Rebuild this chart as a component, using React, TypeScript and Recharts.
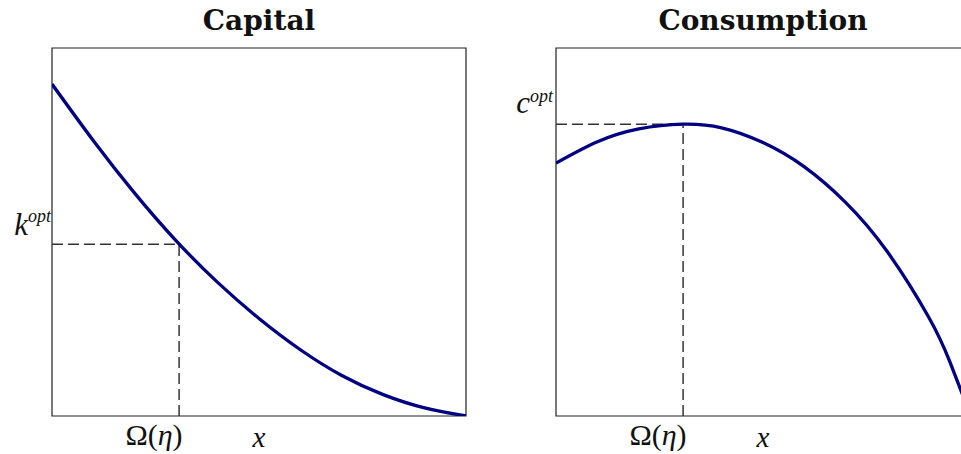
import { LineChart, Line, XAxis, YAxis, ReferenceLine, ReferenceArea, Label } from "recharts";

// x runs 0..1 across each box, values are in box-height units (0..1)
const capitalX = [0, 0.1, 0.2, 0.3, 0.4, 0.5, 0.6, 0.7, 0.8, 0.9, 1];
const capitalY = [0.902, 0.748, 0.605, 0.476, 0.363, 0.265, 0.18, 0.11, 0.058, 0.022, 0];

const consumptionX = [0, 0.1, 0.2, 0.307, 0.4, 0.5, 0.6, 0.7, 0.8, 0.9, 0.95, 1];
const consumptionY = [0.687, 0.745, 0.78, 0.793, 0.783, 0.743, 0.677, 0.58, 0.447, 0.269, 0.151, 0.006];

const omega = 0.307;
const kOpt = 0.467;
const cOpt = 0.793;

const mathFont = "'Liberation Serif', 'DejaVu Serif', serif";
const titleFont = "'DejaVu Serif', serif";
const ink = "#111";

const capitalData = capitalX.map((x, i) => ({ x, y: capitalY[i] }));
const consumptionData = consumptionX.map((x, i) => ({ x, y: consumptionY[i] }));

const OmegaTick = (props: any) => {
  const { x, y } = props;
  return (
    <text x={x + 3.5} y={y + 29} textAnchor="end" fontFamily={mathFont} fontSize={30} fill={ink}>
      Ω(<tspan fontStyle="italic">η</tspan>)
    </text>
  );
};

const optTick = (letter: string, lift: number, supLift: number, gap: number) => (props: any) => {
  const { x, y } = props;
  return (
    <text x={x - gap} y={y - lift} textAnchor="end" fontFamily={mathFont} fill={ink} fontStyle="italic">
      <tspan fontSize={31}>{letter}</tspan>
      <tspan fontSize={18} dy={-supLift}>opt</tspan>
    </text>
  );
};

const XLabel = (props: any) => {
  const vb = props.viewBox || {};
  return (
    <text x={vb.x + vb.width / 2} y={vb.y + 31} textAnchor="middle" fontFamily={mathFont} fontStyle="italic" fontSize={29} fill={ink}>
      x
    </text>
  );
};

function Panel({ data, opt, letter, lift, supLift, gap, margin, width }: any) {
  return (
    <LineChart width={width} height={454} data={data} margin={margin}>
      <XAxis dataKey="x" type="number" domain={[0, 1]} ticks={[omega]} tick={<OmegaTick />} axisLine={false} tickLine={false} tickSize={0} tickMargin={0} height={1} allowDataOverflow>
        <Label content={<XLabel />} />
      </XAxis>
      <YAxis type="number" domain={[0, 1]} ticks={[opt]} tick={optTick(letter, lift, supLift, gap)} axisLine={false} tickLine={false} tickSize={0} tickMargin={0} width={1} allowDataOverflow />
      <ReferenceArea x1={0} x2={1} y1={0} y2={1} fill="none" stroke="#222" strokeWidth={1.2} />
      <ReferenceLine segment={[{ x: 0, y: opt }, { x: omega, y: opt }]} stroke="#333" strokeWidth={1.5} strokeDasharray="11 5" />
      <ReferenceLine segment={[{ x: omega, y: 0 }, { x: omega, y: opt }]} stroke="#333" strokeWidth={1.5} strokeDasharray="11 5" />
      <Line dataKey="y" type="natural" stroke="#000080" strokeWidth={3.3} dot={false} isAnimationActive={false} />
    </LineChart>
  );
}

export default function App() {
  const titleStyle: any = {
    position: "absolute",
    top: 7,
    fontFamily: titleFont,
    fontWeight: "bold",
    fontSize: 28,
    lineHeight: "28px",
    textAlign: "center",
    color: ink,
  };
  return (
    <div style={{ position: "absolute", left: 0, top: 0, width: 961, height: 454, overflow: "hidden", background: "#fff" }}>
      <div style={{ ...titleStyle, left: 52, width: 414 }}>Capital</div>
      <div style={{ ...titleStyle, left: 556, width: 414 }}>Consumption</div>
      <div style={{ position: "absolute", left: 0, top: 0 }}>
        <Panel data={capitalData} opt={kOpt} letter="k" lift={9} supLift={13} gap={1} width={480} margin={{ top: 48, right: 14, bottom: 37, left: 51 }} />
      </div>
      <div style={{ position: "absolute", left: 480, top: 0 }}>
        <Panel data={consumptionData} opt={cOpt} letter="c" lift={11} supLift={11.5} gap={3} width={500} margin={{ top: 48, right: 10, bottom: 37, left: 75 }} />
      </div>
    </div>
  );
}
